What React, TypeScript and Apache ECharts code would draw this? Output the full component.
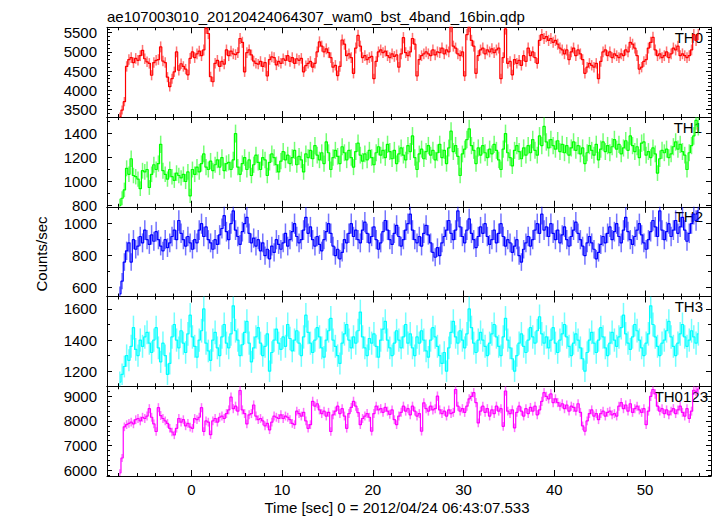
import React, { useEffect, useRef } from "react";
import * as echarts from "echarts";

const TITLE = "ae107003010_20120424064307_wam0_bst_4band_16bin.qdp";
const X_NAME = "Time [sec] 0 = 2012/04/24 06:43:07.533";
const Y_NAME = "Counts/sec";
const BAND_NAMES = ["TH0", "TH1", "TH2", "TH3", "TH0123"];
const COLORS = ["#ff0000", "#00ff00", "#0000ff", "#00ffff", "#ff00ff"];

const BIN_START = -8;
const BIN_WIDTH = 0.25;
const X_MIN = -9.29;
const X_MAX = 57.27;
const X_MAJOR = [0, 10, 20, 30, 40, 50];
const X_MINOR = [-8, -6, -4, -2, 2, 4, 6, 8, 12, 14, 16, 18, 22, 24, 26, 28, 32, 34, 36, 38, 42, 44, 46, 48, 52, 54, 56];

const Y_RANGES = [[3298, 5642], [789, 1538], [544, 1106], [1103, 1680], [5757, 9413]];
const Y_MAJOR = [
  [3500, 4000, 4500, 5000, 5500],
  [800, 1000, 1200, 1400],
  [600, 800, 1000],
  [1200, 1400, 1600],
  [6000, 7000, 8000, 9000],
];
const Y_MINOR = [
  [3400, 3600, 3700, 3800, 3900, 4100, 4200, 4300, 4400, 4600, 4700, 4800, 4900, 5100, 5200, 5300, 5400, 5600],
  [900, 1100, 1300, 1500],
  [700, 900, 1100],
  [1300, 1500],
  [5800, 6200, 6400, 6600, 6800, 7200, 7400, 7600, 7800, 8200, 8400, 8600, 8800, 9200, 9400],
];

// counts/sec per 0.25 s bin, from t = -8 s
const TH0 = [
  3300, 3480, 3700, 4620, 4800, 4850, 4720, 4830, 4780, 4900, 5040, 4820, 4740, 4700, 4390, 4720,
  4780, 4800, 5130, 4760, 4720, 4340, 4090, 4300, 4480, 5000, 4520, 4690, 4620, 4550, 4400, 4830,
  5000, 4850, 4950, 5020, 4900, 5050, 5620, 5480, 4350, 4220, 4700, 4780, 4620, 4750, 4680, 5050,
  4900, 5020, 4950, 4930, 4980, 5350, 5250, 4480, 4980, 5050, 4920, 4760, 4700, 4680, 4750, 4620,
  4720, 4370, 4800, 4870, 4850, 4660, 4750, 4700, 4820, 4780, 4900, 4750, 4850, 4700, 4820, 4780,
  4830, 4480, 4640, 4700, 4750, 4600, 4700, 5000, 5260, 5150, 5000, 5080, 4980, 4850, 4600, 4650,
  4380, 4620, 5310, 5200, 4900, 4950, 4850, 4440, 5100, 5430, 5150, 4850, 4900, 4800, 4850, 4880,
  4300, 4750, 5000, 5050, 4980, 5020, 4900, 4850, 4950, 4880, 4920, 4600, 4950, 5370, 4980, 4900,
  5000, 5350, 5200, 4370, 4800, 4900, 4950, 5000, 4950, 4900, 5050, 4920, 5000, 4980, 5100, 4950,
  5050, 5000, 5660, 5150, 5100, 4950, 4900, 5000, 4370, 5450, 5660, 5300, 5150, 4440, 4900, 5050,
  5100, 4950, 5050, 5000, 5080, 4980, 5050, 5100, 4300, 4850, 5600, 4700, 4750, 4400, 4800, 4700,
  4780, 4650, 4900, 4750, 5100, 4900, 5000, 4850, 4700, 5300, 5450, 5350, 5400, 5300, 5350, 5250,
  5300, 5200, 5100, 5050, 4950, 5050, 4800, 5000, 5100, 4900, 5050, 4950, 4800, 4440, 4600, 4700,
  4650, 4600, 4700, 4300, 4750, 5000, 5050, 4900, 5000, 4850, 4950, 4900, 4850, 4950, 4900, 5050,
  5000, 5250, 5200, 5100, 4900, 4550, 4600, 4750, 4800, 5100, 5250, 5380, 5050, 4900, 4950, 4850,
  4900, 5000, 4850, 4950, 5100, 5050, 5150, 4900, 4950, 4900, 4850, 4900, 5050, 5450, 5300, 5450,
];

const TH1 = [
  800, 860, 930, 1110, 1060, 1190, 1050, 1040, 1020, 940, 1090, 1080, 1100, 950, 1060, 1140,
  1100, 1150, 1310, 1090, 1060, 1020, 1100, 1040, 1010, 1070, 1050, 1030, 1060, 1000, 1080, 880,
  1100, 1060, 1120, 1080, 1150, 1230, 1120, 1100, 1170, 1090, 1140, 1180, 1120, 1200, 1090, 1150,
  1160, 1100, 1180, 1400, 1120, 1060, 1150, 1200, 1100, 1180, 1050, 1140, 1220, 1160, 1100, 1200,
  1180, 1050, 1160, 1230, 1200, 1140, 1080, 1170, 1250, 1180, 1220, 1150, 1200, 1260, 1140, 1210,
  1180, 1080, 1230, 1200, 1260, 1190, 1300, 1220, 1180, 1240, 1150, 1330, 1240, 1100, 1200, 1260,
  1210, 1150, 1290, 1240, 1180, 1260, 1200, 1120, 1250, 1320, 1220, 1170, 1230, 1180, 1260, 1200,
  1140, 1240, 1290, 1220, 1260, 1200, 1310, 1250, 1190, 1260, 1150, 1230, 1280, 1220, 1180, 1300,
  1250, 1380, 1200, 1100, 1230, 1270, 1190, 1250, 1300, 1220, 1260, 1180, 1240, 1310, 1200, 1260,
  1150, 1280, 1420, 1250, 1300, 1210, 1050, 1230, 1270, 1350, 1440, 1300, 1260, 1150, 1280, 1220,
  1300, 1240, 1200, 1270, 1230, 1310, 1260, 1180, 1100, 1270, 1400, 1240, 1200, 1130, 1260, 1300,
  1250, 1190, 1280, 1220, 1300, 1240, 1350, 1260, 1220, 1380, 1300, 1460, 1330, 1280, 1350, 1300,
  1270, 1340, 1250, 1310, 1240, 1300, 1220, 1280, 1330, 1260, 1300, 1230, 1280, 1150, 1240, 1300,
  1260, 1220, 1310, 1180, 1270, 1330, 1250, 1300, 1240, 1290, 1350, 1270, 1310, 1230, 1280, 1340,
  1260, 1380, 1300, 1250, 1290, 1200, 1320, 1330, 1220, 1250, 1200, 1280, 1230, 1070, 1190, 1260,
  1240, 1270, 1200, 1230, 1290, 1330, 1270, 1310, 1250, 1220, 1100, 1240, 1300, 1380, 1510, 1460,
];

const TH2 = [
  560, 640, 760, 830, 880, 760, 900, 840, 860, 920, 880, 960, 900, 870, 930, 890,
  950, 900, 860, 830, 900, 850, 880, 920, 960, 900, 1020, 940, 900, 860, 920, 880,
  840, 900, 880, 960, 1000, 920, 980, 900, 880, 840, 900, 870, 930, 970, 1050, 950,
  900, 1000, 1080, 960, 920, 870, 950, 1000, 1040, 940, 880, 910, 860, 900, 830, 880,
  800, 840, 780, 860, 820, 900, 870, 840, 880, 940, 860, 900, 950, 1000, 920, 880,
  900, 960, 1040, 940, 980, 900, 860, 920, 870, 830, 900, 950, 1000, 940, 860, 800,
  840, 780, 820, 900, 880, 940, 1000, 920, 960, 900, 880, 960, 1010, 940, 880, 920,
  980, 900, 840, 880, 950, 1020, 960, 900, 870, 940, 990, 920, 860, 900, 960, 1000,
  1060, 960, 900, 880, 920, 860, 940, 990, 930, 880, 820, 790, 850, 800, 880, 920,
  960, 1020, 940, 900, 960, 1080, 980, 920, 880, 960, 1030, 940, 900, 850, 920, 980,
  940, 1000, 920, 870, 900, 960, 880, 940, 1000, 920, 860, 900, 880, 820, 860, 900,
  800, 760, 840, 880, 920, 860, 900, 960, 1000, 940, 1060, 960, 980, 920, 1000, 940,
  900, 960, 880, 930, 980, 900, 860, 920, 960, 1010, 940, 900, 860, 800, 880, 920,
  880, 840, 780, 820, 870, 920, 880, 940, 980, 900, 950, 1000, 920, 880, 960, 1040,
  950, 900, 870, 920, 960, 1000, 930, 880, 840, 900, 950, 1020, 980, 920, 1080, 960,
  900, 950, 1000, 920, 960, 1020, 940, 980, 1040, 960, 890, 940, 1000, 1060, 1020, 1080,
];

const TH3 = [
  1130, 1180, 1230, 1300, 1270, 1360, 1480, 1340, 1300, 1400, 1360, 1420, 1450, 1380, 1320, 1400,
  1480, 1350, 1260, 1380, 1300, 1180, 1250, 1420, 1500, 1400, 1350, 1460, 1380, 1320, 1440, 1560,
  1420, 1360, 1290, 1400, 1460, 1600, 1380, 1330, 1270, 1400, 1450, 1350, 1300, 1420, 1500, 1380,
  1350, 1440, 1620, 1460, 1400, 1300, 1370, 1450, 1520, 1380, 1260, 1350, 1420, 1480, 1380, 1300,
  1360, 1440, 1200, 1320, 1400, 1470, 1380, 1340, 1420, 1360, 1500, 1410, 1330, 1400, 1460, 1380,
  1300, 1420, 1560, 1450, 1380, 1320, 1400, 1480, 1420, 1350, 1290, 1400, 1460, 1540, 1400, 1360,
  1300, 1250, 1380, 1440, 1500, 1400, 1350, 1420, 1380, 1460, 1580, 1420, 1350, 1300, 1410, 1380,
  1440, 1360, 1290, 1400, 1470, 1520, 1400, 1350, 1300, 1380, 1460, 1400, 1350, 1420, 1500, 1380,
  1440, 1350, 1300, 1420, 1380, 1460, 1400, 1330, 1290, 1400, 1480, 1420, 1360, 1300, 1250, 1320,
  1200, 1350, 1450, 1520, 1420, 1380, 1460, 1400, 1350, 1440, 1600, 1480, 1380, 1320, 1400, 1450,
  1400, 1360, 1300, 1380, 1440, 1500, 1420, 1360, 1300, 1420, 1540, 1400, 1350, 1280, 1200, 1300,
  1380, 1440, 1360, 1320, 1400, 1480, 1420, 1380, 1460, 1550, 1440, 1380, 1420, 1350, 1400, 1480,
  1380, 1320, 1400, 1440, 1500, 1420, 1360, 1300, 1380, 1440, 1400, 1350, 1280, 1200, 1320, 1400,
  1450, 1380, 1320, 1400, 1480, 1420, 1350, 1300, 1380, 1450, 1400, 1360, 1420, 1480, 1560, 1440,
  1380, 1340, 1420, 1500, 1460, 1400, 1350, 1300, 1380, 1440, 1620, 1500, 1420, 1360, 1300, 1380,
  1400, 1460, 1520, 1420, 1360, 1300, 1380, 1440, 1500, 1420, 1360, 1400, 1460, 1420, 1380, 1440,
];

const TH0123 = [
  5880, 6490, 7760, 7850, 7900, 7950, 7880, 8050, 8100, 8000, 8150, 8100, 8200, 8500, 8150, 7880,
  7570, 8540, 8220, 8100, 8000, 7900, 7700, 7550, 7430, 7700, 8100, 7950, 8050, 7800, 7900, 7750,
  7700, 8100, 8050, 8150, 8540, 7570, 8000, 7950, 7440, 8000, 8100, 7950, 8150, 8200, 8100, 8300,
  8450, 8970, 8500, 8600, 8400, 9240, 8450, 8300, 7880, 8250, 8300, 8650, 8200, 8050, 8100, 8000,
  7800, 7900, 7640, 7950, 8200, 8150, 8100, 8250, 8100, 8200, 8150, 8050, 7900, 7850, 8400, 8300,
  8200, 8350, 8000, 7700, 7850, 8800, 8600, 8700, 8450, 8300, 8400, 8200, 8350, 7570, 8250, 8400,
  8600, 8300, 8500, 8200, 7700, 8300, 8550, 8800, 8600, 8340, 7850, 8100, 8200, 8300, 8150, 7580,
  8300, 8600, 8450, 8500, 8350, 8550, 8400, 8270, 8450, 8050, 7850, 8200, 8350, 8600, 8400, 8500,
  8250, 8600, 8400, 8200, 8300, 7580, 8740, 8500, 8400, 8600, 8450, 8500, 9010, 8450, 8300, 8400,
  8200, 8450, 8300, 8350, 9280, 8600, 8400, 8500, 8350, 8600, 8900, 9000, 9150, 8750, 7920, 8400,
  8600, 8350, 8500, 8200, 8450, 8300, 8600, 8400, 8500, 7780, 9220, 8400, 8300, 8450, 7720, 8350,
  8600, 8400, 8200, 8500, 8300, 8550, 8400, 8600, 8250, 8450, 8800, 9150, 9000, 8900, 9100, 8750,
  8900, 8750, 8600, 8700, 8500, 8650, 8400, 8600, 8550, 8400, 8700, 8350, 7800, 7580, 8000, 8300,
  8450, 8200, 8300, 8050, 8300, 8400, 8200, 8350, 8400, 8250, 8300, 8200, 8600, 8750, 8500, 8650,
  8400, 8700, 8350, 8500, 8600, 8450, 8350, 8500, 7850, 8400, 9000, 9280, 9100, 8600, 8400, 8500,
  8300, 8450, 8250, 8400, 8500, 8300, 8450, 8600, 8350, 8200, 8500, 8100, 8400, 9250, 9200, 9300,
];

const SERIES_VALUES = [TH0, TH1, TH2, TH3, TH0123];
const LABEL_RIGHT = [703, 702, 703, 703, 708];

const FONT = "Liberation Sans, Arial, Helvetica, sans-serif";
const FS = 15;
const GRID_LEFT = 107;
const GRID_RIGHT = 6;
const GRID_TOP = 27.3;
const GRID_H = 89.74;

function buildOption() {
  const black = { color: "#000", width: 1 };
  const grids: any[] = [];
  const xAxes: any[] = [];
  const yAxes: any[] = [];
  const series: any[] = [];
  const graphics: any[] = [];

  BAND_NAMES.forEach((name, i) => {
    const top = GRID_TOP + GRID_H * i;
    grids.push({ left: GRID_LEFT, right: GRID_RIGHT, top, height: GRID_H, show: false });
    const xb = {
      type: "value", gridIndex: i, min: X_MIN, max: X_MAX,
      splitLine: { show: false }, minorTick: { show: false },
    };
    const lbl = { color: "#000", fontSize: FS, fontFamily: FONT, formatter: (v: number) => String(v) };
    for (const pos of ["bottom", "top"]) {
      xAxes.push({
        ...xb, position: pos,
        axisLine: { show: true, onZero: false, lineStyle: black },
        axisTick: { show: true, inside: true, length: 6, customValues: X_MAJOR, lineStyle: black },
        axisLabel: { ...lbl, show: pos === "bottom" && i === 4, customValues: X_MAJOR, margin: 6 },
      });
      xAxes.push({
        ...xb, position: pos,
        axisLine: { show: false, onZero: false },
        axisTick: { show: true, inside: true, length: 3, customValues: X_MINOR, lineStyle: black },
        axisLabel: { show: false },
      });
    }
    const yb = {
      type: "value", gridIndex: i, min: Y_RANGES[i][0], max: Y_RANGES[i][1],
      splitLine: { show: false }, minorTick: { show: false },
    };
    for (const pos of ["left", "right"]) {
      yAxes.push({
        ...yb, position: pos,
        axisLine: { show: true, onZero: false, lineStyle: black },
        axisTick: { show: true, inside: true, length: 5, customValues: Y_MAJOR[i], lineStyle: black },
        axisLabel: { ...lbl, show: pos === "left", customValues: Y_MAJOR[i], margin: 10 },
      });
      yAxes.push({
        ...yb, position: pos,
        axisLine: { show: false, onZero: false },
        axisTick: { show: true, inside: true, length: 3, customValues: Y_MINOR[i], lineStyle: black },
        axisLabel: { show: false },
      });
    }

    const values = SERIES_VALUES[i];
    const data = values.map((v, k) => [BIN_START + BIN_WIDTH * (k + 0.5), v]);
    const color = COLORS[i];
    series.push({
      type: "custom",
      xAxisIndex: i * 4,
      yAxisIndex: i * 4,
      data,
      silent: true,
      encode: { x: 0, y: 1 },
      renderItem: (params: any, api: any) => {
        const x = api.value(0);
        const v = api.value(1);
        const e = Math.sqrt(v / BIN_WIDTH);
        const p1 = api.coord([x, v + e]);
        const p2 = api.coord([x, v - e]);
        const cs = params.coordSys;
        const y1 = Math.max(cs.y, Math.min(cs.y + cs.height, p1[1]));
        const y2 = Math.max(cs.y, Math.min(cs.y + cs.height, p2[1]));
        return {
          type: "line",
          shape: { x1: p1[0], y1, x2: p2[0], y2 },
          style: { stroke: color, lineWidth: 1.5, opacity: 0.55 },
        };
      },
    });
    series.push({
      type: "line",
      xAxisIndex: i * 4,
      yAxisIndex: i * 4,
      data,
      step: "middle",
      showSymbol: false,
      symbol: "none",
      clip: true,
      silent: true,
      lineStyle: { color, width: 1.2 },
      itemStyle: { color },
    });

    graphics.push({
      type: "text",
      x: LABEL_RIGHT[i],
      y: top + 10,
      style: {
        text: name, fill: "#000", fontSize: FS, fontFamily: FONT,
        align: "right", textAlign: "right", verticalAlign: "middle", textVerticalAlign: "middle",
      },
    });
  });

  graphics.push({
    type: "text", x: 107, y: 16,
    style: { text: TITLE, fill: "#000", fontSize: FS, fontFamily: FONT, align: "left", textAlign: "left", verticalAlign: "middle", textVerticalAlign: "middle" },
  });
  graphics.push({
    type: "text", x: 397, y: 507,
    style: { text: X_NAME, fill: "#000", fontSize: FS, fontFamily: FONT, align: "center", textAlign: "center", verticalAlign: "middle", textVerticalAlign: "middle" },
  });
  graphics.push({
    type: "text", x: 41, y: 254, rotation: Math.PI / 2,
    style: { text: Y_NAME, fill: "#000", fontSize: FS, fontFamily: FONT, align: "center", textAlign: "center", verticalAlign: "middle", textVerticalAlign: "middle" },
  });

  return {
    animation: false,
    backgroundColor: "#fff",
    grid: grids,
    xAxis: xAxes,
    yAxis: yAxes,
    series,
    graphic: graphics,
  };
}

export default function App() {
  const ref = useRef<HTMLDivElement>(null);
  useEffect(() => {
    if (!ref.current) return;
    const chart = echarts.init(ref.current, undefined, { renderer: "svg" });
    chart.setOption(buildOption() as any);
    return () => chart.dispose();
  }, []);
  return (
    <div
      ref={ref}
      style={{ position: "fixed", left: 0, top: 0, width: 717, height: 516, background: "#fff" }}
    />
  );
}
